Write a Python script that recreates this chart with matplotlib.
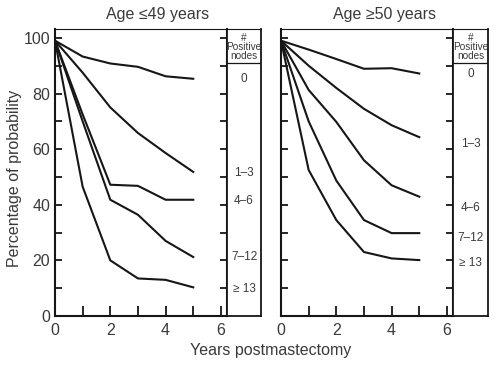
import matplotlib
matplotlib.use("Agg")
import matplotlib.pyplot as plt
import numpy as np

plt.rcParams['font.family'] = ['Liberation Sans', 'DejaVu Sans']

years = [0, 1, 2, 3, 4, 5]
groups = ["0", "1\u20133", "4\u20136", "7\u201312", "\u2265 13"]

# Age <= 49
young = {
    "0":     [99, 93.3, 90.8, 89.6, 86.2, 85.3],
    "1-3":   [99, 87.5, 75.0, 65.8, 58.6, 51.8],
    "4-6":   [99, 72.5, 47.2, 46.8, 41.8, 41.8],
    "7-12":  [99, 70.0, 41.8, 36.4, 27.0, 21.2],
    ">=13":  [99, 46.5, 20.0, 13.5, 13.0, 10.3],
}
young_label_y = [85.3, 51.5, 41.3, 21.2, 9.8]

# Age >= 50
old = {
    "0":     [99, 95.8, 92.4, 88.9, 89.1, 87.2],
    "1-3":   [99, 90.0, 82.0, 74.5, 68.6, 64.3],
    "4-6":   [99, 81.3, 69.8, 56.0, 47.0, 42.9],
    "7-12":  [99, 70.0, 48.7, 34.5, 29.8, 29.8],
    ">=13":  [99, 52.5, 34.5, 23.0, 20.7, 20.1],
}
old_label_y = [87.0, 62.0, 39.0, 28.0, 19.0]

titles = ["Age \u226449 years", "Age \u226550 years"]

W, H = 500, 366
fig = plt.figure(figsize=(W / 100, H / 100), dpi=100)

def fx(px):
    return px / W

def fy(py):
    return 1 - py / H

top_px, bot_px = 29, 316
panels = [
    (55, 227, 261, young, young_label_y, titles[0], True),
    (281, 453, 488, old, old_label_y, titles[1], False),
]

line_col = "#161616"
text_col = "#3a3a3a"
YMAX = 103.2
XMAX = 6.22

for (l, r, br, data, lab_y, title, show_ylabels) in panels:
    ax = fig.add_axes([fx(l), fy(bot_px), fx(r - l), (bot_px - top_px) / H])
    for key, vals in data.items():
        ax.plot(years, vals, color=line_col, lw=1.5, solid_joinstyle='round')
    ax.set_xlim(0, XMAX)
    ax.set_ylim(0, YMAX)
    ax.set_xticks([0, 2, 4, 6])
    ax.set_xticks([1, 3, 5], minor=True)
    ax.set_yticks([0, 20, 40, 60, 80, 100])
    ax.set_yticks([10, 30, 50, 70, 90], minor=True)
    ax.tick_params(axis='both', which='both', direction='in', color=line_col,
                   width=1.3, labelsize=11.5, labelcolor=text_col)
    ax.tick_params(axis='y', which='both', right=True, length=5)
    ax.tick_params(axis='x', which='both', length=7, pad=5)
    if not show_ylabels:
        ax.tick_params(axis='y', labelleft=False)
    for s in ax.spines.values():
        s.set_linewidth(1.5)
        s.set_color(line_col)
    ax.spines['top'].set_linewidth(0.8)

    # label box
    bx = fig.add_axes([fx(r), fy(bot_px), fx(br - r), (bot_px - top_px) / H])
    bx.set_xlim(0, 1)
    bx.set_ylim(0, YMAX)
    bx.set_xticks([])
    bx.set_yticks([])
    for s in bx.spines.values():
        s.set_linewidth(1.3)
        s.set_color(line_col)
    bx.spines['top'].set_linewidth(0.8)
    bx.axhline(91.0, color=line_col, lw=0.9)
    bx.text(0.5, 96.8, "#\nPositive\nnodes", ha='center', va='center',
            fontsize=7.2, color=text_col, linespacing=0.9)
    for g, yv in zip(groups, lab_y):
        bx.text(0.5, yv, g, ha='center', va='center', fontsize=8.5,
                color=text_col)

    fig.text(fx((l + br) / 2), fy(15), title, ha='center', va='center',
             fontsize=11.5, color=text_col)

fig.text(fx(15), fy(178), "Percentage of probability", rotation=90,
         ha='center', va='center', fontsize=11.5, color=text_col)
fig.text(fx(271), fy(351), "Years postmastectomy", ha='center', va='center',
         fontsize=11.5, color=text_col)

fig.savefig("out.png", dpi=100)
